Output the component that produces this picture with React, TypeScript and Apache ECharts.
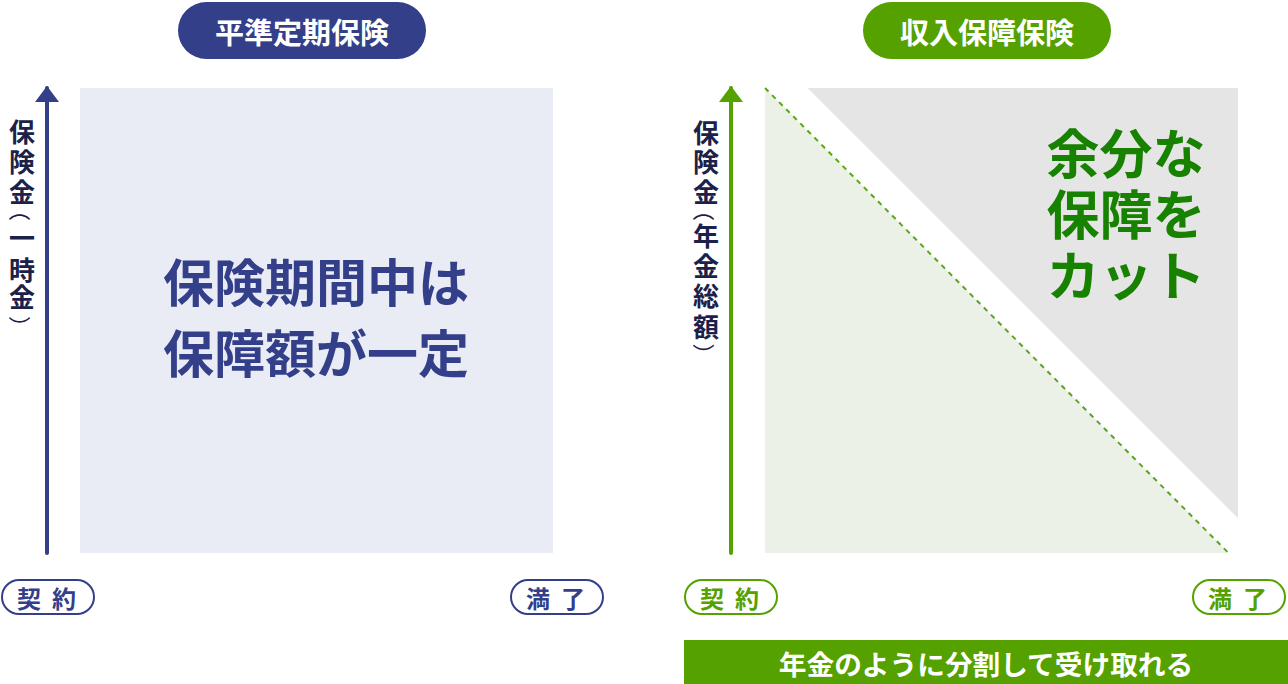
import { useEffect, useRef } from 'react';
import * as echarts from 'echarts';

// coverage shapes, x = policy term (%), y = benefit amount (%)
const levelTermCoverage = [
  [0, 100],
  [100, 100],
];
const incomeCoverage = [
  [0, 100],
  [98, 0],
];
const excessCoverage = [
  [9, 100],
  [100, 7.5],
];

const panelTitles = ['平準定期保険', '収入保障保険'];
const leftAxisName = ['保', '険', '金', '（', '一', '時', '金', '）'];
const rightAxisName = ['保', '険', '金', '（', '年', '金', '総', '額', '）'];
const startLabel = ['契', '約'];
const endLabel = ['満', '了'];
const levelNote = '保険期間中は\n保障額が一定';
const cutNote = '余分な\n保障を\nカット';
const bottomNote = '年金のように分割して受け取れる';

const NAVY = '#343f8a';
const GREEN = '#55a100';
const INK = '#1b2148';
const FONT = "'Noto Sans CJK JP', 'Noto Sans', sans-serif";

const txt = (text: string, x: number, y: number, size: number, fill: string, extra: any = {}, rotation = 0) => ({
  type: 'text',
  x,
  y,
  rotation,
  z: 100,
  style: {
    text,
    fill,
    fontSize: size,
    fontWeight: 'bold',
    fontFamily: FONT,
    align: 'center',
    verticalAlign: 'middle',
    textAlign: 'center',
    textVerticalAlign: 'middle',
    ...extra,
  },
});

// one glyph of a vertical label; brackets are turned a quarter clockwise
const vChar = (c: string, x: number, y: number) =>
  c === '（' || c === '）'
    ? txt(c, x, y, 22, INK, { fontWeight: 'normal', lineHeight: 22 }, -Math.PI / 2)
    : txt(c, x, y, 26, INK, { lineHeight: 26 });

const pill = (cx: number, color: string, chars: string[]) => [
  {
    type: 'rect',
    z: 100,
    shape: { x: cx - 46, y: 580, width: 92, height: 34, r: 17 },
    style: { fill: '#fff', stroke: color, lineWidth: 2 },
  },
  txt(chars[0], cx - 19, 597, 24, color),
  txt(chars[1], cx + 16, 597, 24, color),
];

const App = () => {
  const chartRef = useRef<HTMLDivElement>(null);

  useEffect(() => {
    if (!chartRef.current) return;
    document.body.style.margin = '0';

    const chart = echarts.init(chartRef.current, null, { renderer: 'svg' });

    const yAxisBase = (gridIndex: number, color: string, offset: number) => ({
      type: 'value',
      gridIndex,
      min: 0,
      max: 100,
      offset,
      z: 5,
      axisLabel: { show: false },
      axisTick: { show: false },
      splitLine: { show: false },
      axisLine: {
        show: true,
        onZero: false,
        symbol: ['none', 'triangle'],
        symbolSize: [24, 16],
        symbolOffset: [0, -6],
        lineStyle: { color, width: 4 },
      },
    });

    const leftNameY = [130.5, 160.5, 190.5, 210, 236.5, 268.5, 295.5, 327];
    const rightNameY = [131, 160.5, 190.5, 210, 234.5, 264.5, 294.5, 325, 354.5];

    const option = {
      animation: false,
      backgroundColor: '#fff',
      grid: [
        { left: 80, top: 88, width: 473, height: 465 },
        { left: 765, top: 88, width: 473, height: 465 },
      ],
      xAxis: [
        { type: 'value', gridIndex: 0, min: 0, max: 100, show: false },
        { type: 'value', gridIndex: 1, min: 0, max: 100, show: false },
      ],
      yAxis: [yAxisBase(0, NAVY, 33), yAxisBase(1, GREEN, 34)],
      series: [
        {
          type: 'line',
          xAxisIndex: 0,
          yAxisIndex: 0,
          data: levelTermCoverage,
          symbol: 'none',
          lineStyle: { width: 0 },
          areaStyle: { color: '#e9ecf5', opacity: 1 },
        },
        {
          type: 'line',
          xAxisIndex: 1,
          yAxisIndex: 1,
          data: incomeCoverage,
          symbol: 'none',
          lineStyle: { color: '#5aa51c', width: 2, type: [5, 5] },
          areaStyle: { color: '#ebf1e6', opacity: 1 },
          z: 3,
        },
        {
          type: 'line',
          xAxisIndex: 1,
          yAxisIndex: 1,
          data: excessCoverage,
          symbol: 'none',
          lineStyle: { width: 0 },
          areaStyle: { color: '#e5e5e5', opacity: 1, origin: 'end' },
        },
      ],
      graphic: [
        // panel titles
        {
          type: 'rect',
          z: 100,
          shape: { x: 178, y: 2, width: 248, height: 57, r: 28.5 },
          style: { fill: NAVY },
        },
        txt(panelTitles[0], 302, 31, 29, '#fff'),
        {
          type: 'rect',
          z: 100,
          shape: { x: 863, y: 2, width: 248, height: 57, r: 28.5 },
          style: { fill: GREEN },
        },
        txt(panelTitles[1], 987, 31, 29, '#fff'),
        // vertical axis names
        ...leftAxisName.map((c, i) => vChar(c, 22, leftNameY[i])),
        ...rightAxisName.map((c, i) => vChar(c, 706, rightNameY[i])),
        // notes
        txt(levelNote, 316, 315, 51, NAVY, { lineHeight: 71 }),
        txt(cutNote, 1126, 212, 53, '#178100', { lineHeight: 61 }),
        // start / end labels
        ...pill(48, NAVY, startLabel),
        ...pill(557, NAVY, endLabel),
        ...pill(731, GREEN, startLabel),
        ...pill(1239, GREEN, endLabel),
        // bottom banner
        {
          type: 'rect',
          z: 100,
          shape: { x: 684, y: 640, width: 604, height: 44 },
          style: { fill: GREEN },
        },
        txt(bottomNote, 986, 663, 27.7, '#fff'),
      ],
    };

    chart.setOption(option);

    const handleResize = () => chart.resize();
    window.addEventListener('resize', handleResize);

    return () => {
      chart.dispose();
      window.removeEventListener('resize', handleResize);
    };
  }, []);

  return <div ref={chartRef} style={{ width: '1288px', height: '684px' }} />;
};

export default App;
